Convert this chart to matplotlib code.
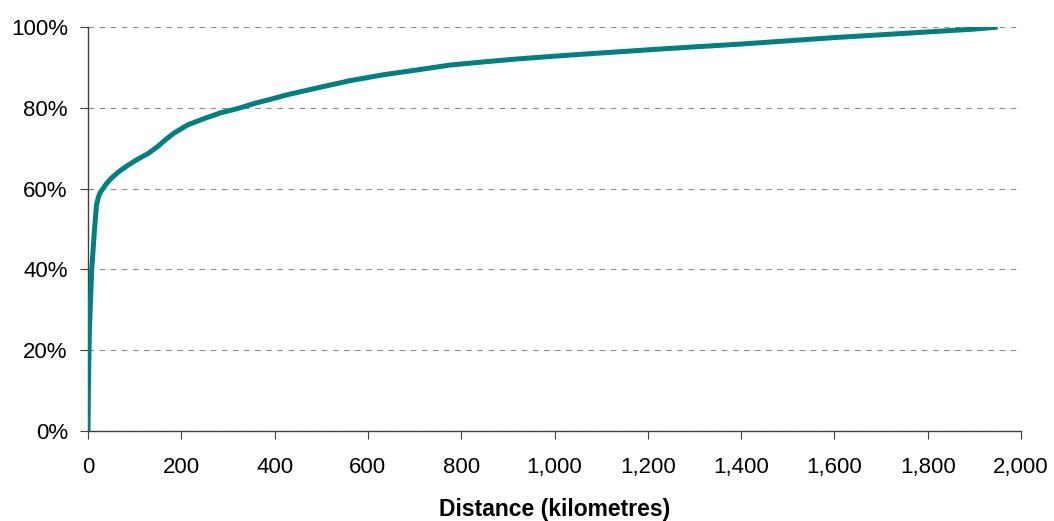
import numpy as np
import matplotlib.pyplot as plt
from matplotlib.ticker import FuncFormatter

plt.rcParams['font.family'] = ['Liberation Sans', 'DejaVu Sans']

# cumulative share of trips by distance
distance_km = [0, 1, 3, 8, 14, 18, 22, 26, 32, 40, 50, 65, 83, 105, 129, 150, 169, 185, 214, 250,
               285, 320, 357, 400, 429, 490, 560, 633, 700, 776, 850, 919, 1000, 1062, 1205,
               1300, 1400, 1500, 1600, 1700, 1800, 1900, 1950]
share_pct = [0, 12, 25, 40, 50, 55.8, 57.8, 59, 60, 61.3, 62.6, 64.1, 65.6, 67.2, 68.7, 70.5,
             72.4, 73.8, 75.8, 77.4, 78.8, 79.8, 81.1, 82.4, 83.3, 84.9, 86.7, 88.2, 89.3,
             90.6, 91.4, 92.1, 92.8, 93.3, 94.4, 95.1, 95.8, 96.6, 97.4, 98.1, 98.8, 99.5, 100]

fig = plt.figure(figsize=(10.54, 5.21), dpi=100)
ax = fig.add_axes([0.0835, 0.1727, 0.8852, 0.7753])

ax.plot(distance_km, share_pct, color='#008080', lw=3.6, solid_joinstyle='round',
        solid_capstyle='butt', zorder=3)

ax.set_xlim(0, 2000)
ax.set_ylim(0, 100)
ax.set_xticks(np.arange(0, 2001, 200))
ax.set_yticks(np.arange(0, 101, 20))
ax.xaxis.set_major_formatter(FuncFormatter(lambda v, p: f'{int(v):,}'))
ax.yaxis.set_major_formatter(FuncFormatter(lambda v, p: f'{int(v)}%'))
ax.yaxis.grid(True, linestyle=(0, (5, 5)), color='#8c8c8c', lw=0.8)
ax.set_axisbelow(True)

for s in ['top', 'right']:
    ax.spines[s].set_visible(False)
for s in ['left', 'bottom']:
    ax.spines[s].set_color('#404040')
    ax.spines[s].set_linewidth(1.0)
ax.tick_params(axis='both', direction='out', length=6, color='#404040', labelsize=16)
ax.tick_params(axis='x', pad=13)
ax.tick_params(axis='y', pad=8.5)

ax.set_xlabel('Distance (kilometres)', fontsize=16.5, fontweight='bold', labelpad=14)

fig.savefig('out.png', dpi=100)
